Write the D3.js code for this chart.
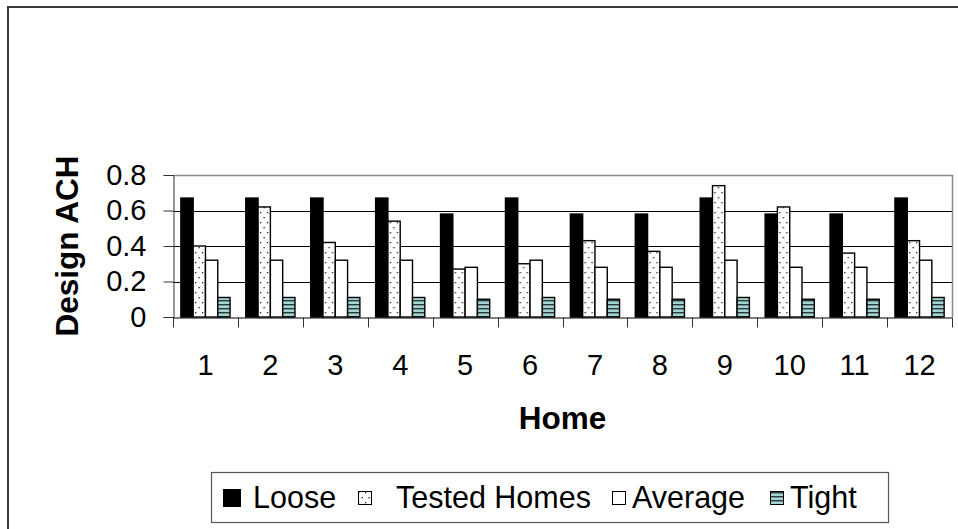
<!DOCTYPE html>
<html>
<head>
<meta charset="utf-8">
<script src="https://cdn.jsdelivr.net/npm/d3@7"></script>
<style>
  html, body { margin: 0; padding: 0; background: #fff; }
  svg { display: block; font-family: Arial, "Liberation Sans", sans-serif; }
</style>
</head>
<body>
<svg id="chart" width="958" height="529"></svg>
<script>
// ---- data ----
const homes = ["1","2","3","4","5","6","7","8","9","10","11","12"];
const seriesNames = ["Loose", "Tested Homes", "Average", "Tight"];
const loose   = [0.67, 0.67, 0.67, 0.67, 0.58, 0.67, 0.58, 0.58, 0.67, 0.58, 0.58, 0.67];
const tested  = [0.40, 0.62, 0.42, 0.54, 0.27, 0.30, 0.43, 0.37, 0.74, 0.62, 0.36, 0.43];
const average = [0.32, 0.32, 0.32, 0.32, 0.28, 0.32, 0.28, 0.28, 0.32, 0.28, 0.28, 0.32];
const tight   = [0.11, 0.11, 0.11, 0.11, 0.10, 0.11, 0.10, 0.10, 0.11, 0.10, 0.10, 0.11];
const yTicks  = [0, 0.2, 0.4, 0.6, 0.8];
const yTitle = "Design ACH";
const xTitle = "Home";

const seriesValues = [loose, tested, average, tight];

// ---- layout ----
const svg = d3.select("#chart");
const plot = { left: 173, right: 952, top: 175, bottom: 317 };

const defs = svg.append("defs");
const dots = defs.append("pattern").attr("id", "dots")
  .attr("patternUnits", "userSpaceOnUse").attr("width", 7).attr("height", 10);
dots.append("rect").attr("width", 7).attr("height", 10).attr("fill", "#fff");
dots.append("rect").attr("x", 1).attr("y", 2).attr("width", 1.3).attr("height", 1.3).attr("fill", "#222");
dots.append("rect").attr("x", 4.5).attr("y", 7).attr("width", 1.3).attr("height", 1.3).attr("fill", "#222");

const stripes = defs.append("pattern").attr("id", "stripes")
  .attr("patternUnits", "userSpaceOnUse").attr("width", 8).attr("height", 4);
stripes.append("rect").attr("width", 8).attr("height", 4).attr("fill", "#a3d3d3");
stripes.append("rect").attr("y", 0).attr("width", 8).attr("height", 1.4).attr("fill", "#2a3a3a");

const fills = ["#000", "url(#dots)", "#fff", "url(#stripes)"];

// chart outer border
svg.append("rect").attr("x", 8).attr("y", 7).attr("width", 980).attr("height", 560)
  .attr("fill", "none").attr("stroke", "#3a3a3a").attr("stroke-width", 2);

const x0 = d3.scaleBand().domain(homes).range([plot.left, plot.right]).paddingInner(0).paddingOuter(0);
const x1 = d3.scaleBand().domain(seriesNames).range([0, x0.bandwidth()]).paddingInner(0).paddingOuter(0.64);
const y = d3.scaleLinear().domain([0, 0.8]).range([plot.bottom, plot.top]);

// gridlines
svg.append("g").selectAll("line").data(yTicks.filter(t => t > 0 && t < 0.8)).join("line")
  .attr("x1", plot.left).attr("x2", plot.right)
  .attr("y1", d => Math.round(y(d)) + 0.5).attr("y2", d => Math.round(y(d)) + 0.5)
  .attr("stroke", "#000").attr("stroke-width", 1);

// plot area border (top/right)
svg.append("path")
  .attr("d", `M${plot.left},${plot.top + 0.5} H${plot.right + 0.5} V${plot.bottom}`)
  .attr("fill", "none").attr("stroke", "#8c8c8c").attr("stroke-width", 1.5);

// bars
const groups = svg.append("g").selectAll("g").data(homes).join("g")
  .attr("transform", d => `translate(${x0(d)},0)`);
groups.selectAll("rect").data((d, i) => seriesNames.map((s, k) => ({ s, k, v: seriesValues[k][i] })))
  .join("rect")
  .attr("x", d => x1(d.s))
  .attr("width", x1.bandwidth())
  .attr("y", d => y(d.v))
  .attr("height", d => y(0) - y(d.v))
  .attr("fill", d => fills[d.k])
  .attr("stroke", "#000").attr("stroke-width", 1.4);

// y axis
const yAxis = d3.axisLeft(y).tickValues(yTicks).tickSize(10).tickPadding(17)
  .tickFormat(d => d === 0 ? "0" : d3.format(".1f")(d));
const gy = svg.append("g").attr("transform", `translate(${plot.left + 0.5},0)`).call(yAxis);
gy.select(".domain").attr("stroke", "#555").attr("stroke-width", 1.2);
gy.selectAll(".tick line").attr("stroke", "#333");
gy.selectAll("text").attr("font-size", 29).attr("fill", "#000").attr("font-family", "Arial, 'Liberation Sans', sans-serif");

// x axis
const xAxis = d3.axisBottom(x0).tickSize(0).tickPadding(0);
const gx = svg.append("g").attr("transform", `translate(0,${plot.bottom + 0.5})`).call(xAxis);
gx.select(".domain").attr("stroke", "#000").attr("stroke-width", 1.2);
gx.selectAll("text").attr("font-size", 29).attr("fill", "#000").attr("dy", null).attr("y", 57)
  .attr("font-family", "Arial, 'Liberation Sans', sans-serif");
// category boundary ticks
const bounds = homes.map(h => x0(h)).concat([plot.right]);
gx.append("g").selectAll("line").data(bounds).join("line")
  .attr("x1", d => Math.round(d) + 0.5).attr("x2", d => Math.round(d) + 0.5)
  .attr("y1", 0).attr("y2", 10).attr("stroke", "#333").attr("stroke-width", 1);

// axis titles
svg.append("text").attr("x", (plot.left + plot.right) / 2).attr("y", 429)
  .attr("text-anchor", "middle").attr("font-size", 31.5).attr("font-weight", "bold")
  .text(xTitle);
svg.append("text")
  .attr("transform", `translate(78,${(plot.top + plot.bottom) / 2}) rotate(-90)`)
  .attr("text-anchor", "middle").attr("font-size", 31.5).attr("font-weight", "bold")
  .text(yTitle);

// legend
const legend = svg.append("g");
legend.append("rect").attr("x", 211.5).attr("y", 472.5).attr("width", 677).attr("height", 50)
  .attr("fill", "#fff").attr("stroke", "#555").attr("stroke-width", 1.2);
const swatchX = [223, 358, 612, 770];
const swatchSize = [18, 14, 14, 14];
const textX = [253, 396, 632, 790];
seriesNames.forEach((name, k) => {
  const s = swatchSize[k];
  legend.append("rect").attr("x", swatchX[k] + 0.5).attr("y", 498 - s / 2 + 0.5)
    .attr("width", s - 1).attr("height", s - 1)
    .attr("fill", fills[k]).attr("stroke", "#000").attr("stroke-width", 1);
  legend.append("text").attr("x", textX[k]).attr("y", 508)
    .attr("font-size", 30.5).attr("fill", "#000")
    .text(name);
});
</script>
</body>
</html>
